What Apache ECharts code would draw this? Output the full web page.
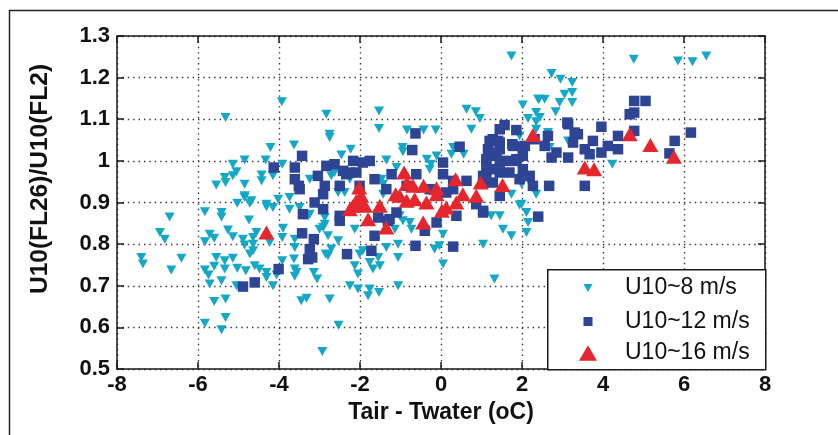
<!DOCTYPE html>
<html>
<head>
<meta charset="utf-8">
<script src="https://cdn.jsdelivr.net/npm/echarts@6/dist/echarts.min.js"></script>
<style>
  html, body { margin: 0; padding: 0; background: #fff; }
  #chart { width: 838px; height: 435px; }
</style>
</head>
<body>
<div id="chart"></div>
<script>
// Axis ticks
const xTickValues = [-8, -6, -4, -2, 0, 2, 4, 6, 8];
const yTickValues = [0.5, 0.6, 0.7, 0.8, 0.9, 1.0, 1.1, 1.2, 1.3];

const seriesNames = ['U10~8 m/s', 'U10~12 m/s', 'U10~16 m/s'];

// [Tair - Twater (oC), U10(FL26)/U10(FL2)] for winds near 8 m/s
const u10_8 = [
  [-7.40,0.768],[-7.36,0.752],[-6.94,0.828],[-6.82,0.812],[-6.70,0.865],[-6.41,0.766],[-6.66,0.738],
  [-5.83,0.878],[-5.42,0.876],[-5.42,0.865],[-5.03,0.898],[-4.85,0.912],[-4.72,0.898],[-4.74,0.858],
  [-5.26,0.834],[-5.14,0.818],[-5.71,0.824],[-5.60,0.814],[-5.83,0.806],[-4.89,0.812],[-4.85,0.798],
  [-4.64,0.784],[-4.72,0.776],[-5.55,0.768],[-5.34,0.760],[-5.14,0.766],[-5.34,0.740],[-5.60,0.747],
  [-5.83,0.738],[-5.74,0.726],[-5.71,0.704],[-5.42,0.712],[-5.03,0.742],[-4.82,0.736],[-4.60,0.748],
  [-4.48,0.740],[-4.31,0.732],[-4.15,0.700],[-4.06,0.726],[-4.31,0.720],[-5.05,0.700],[-5.60,0.662],
  [-5.32,0.668],[-5.32,0.624],[-5.83,0.610],[-5.42,0.594],[-3.92,0.760],[-3.90,0.838],[-3.92,0.816],
  [-4.23,0.804],[-4.56,0.828],[-4.64,0.800],[-4.64,0.816],[-3.61,0.792],[-3.63,0.764],[-3.61,0.740],
  [-3.57,0.732],[-3.61,0.723],[-3.14,0.732],[-3.06,0.716],[-3.45,0.664],[-3.32,0.670],[-2.93,0.542],
  [-2.85,0.776],[-3.74,0.912],[-3.49,0.888],[-3.24,0.872],[-3.00,0.836],[-2.91,0.840],[-3.61,0.812],
  [-4.31,0.890],[-4.15,0.888],[-4.02,0.908],[-4.68,0.904],[-4.31,0.896],[-3.74,0.884],[-3.28,0.868],
  [-2.79,0.820],[-2.54,0.924],
  [-3.93,1.142],[-5.32,1.104],[-2.83,1.112],[-2.75,1.064],[-2.75,1.056],[-4.21,1.032],[-3.63,1.038],
  [-4.85,1.002],[-4.33,1.002],[-5.14,0.992],[-5.05,0.974],[-5.14,0.964],[-5.34,0.960],[-5.32,0.948],
  [-5.55,0.942],[-4.85,0.944],[-4.43,0.966],[-4.43,0.952],[-4.15,0.964],[-3.92,0.992],[-4.85,0.916],
  [-3.24,0.956],[-2.71,0.964],[-2.63,0.972],[-2.25,0.956],[-1.47,0.956],
  [1.74,1.252],[-1.53,1.120],[-1.53,1.078],[-0.84,1.074],[-0.43,1.074],[-0.13,1.074],[-0.95,1.032],
  [-0.94,1.022],[-2.23,1.028],[-2.46,1.014],[-1.35,1.002],[0.63,1.124],[0.86,1.118],[0.96,1.102],
  [0.75,1.076],[2.02,1.134],[2.40,1.148],[2.35,1.116],[2.15,1.102],[2.35,1.094],[0.30,1.032],[0.26,1.016],
  [0.56,1.016],[-0.35,1.004],[-0.25,0.992],[-0.11,1.012],[-0.28,0.980],[-1.10,0.984],[-1.76,0.996],
  [-1.43,0.944],[-2.38,0.924],[1.94,1.060],[1.99,0.944],[1.74,0.920],[-1.43,0.920],
  [-2.79,0.772],[-2.71,0.788],[-2.87,0.864],[-2.54,0.808],[-2.13,0.836],[-2.01,0.776],[-1.93,0.784],
  [-1.76,0.756],[-1.68,0.740],[-1.51,0.748],[-1.55,0.768],[-1.35,0.792],[-1.06,0.800],[-1.06,0.768],
  [-2.05,0.728],[-2.25,0.700],[-2.05,0.692],[-1.76,0.692],[-1.80,0.676],[-1.53,0.684],[-1.06,0.700],
  [-2.75,0.668],[-2.53,0.605],[0.05,0.752],[1.32,0.716],[-0.16,0.788],[-0.04,0.796],[0.05,0.824],
  [1.04,0.800],[1.74,0.820],[1.53,0.836],[1.45,0.868],[1.24,0.868],[1.99,0.896],[2.15,0.852],
  [-0.94,0.856],[-0.77,0.852],[-0.73,0.836],[-1.14,0.836],[-2.87,0.848],[-2.13,0.748],
  [2.11,0.876],[2.11,0.828],[-1.02,0.868],[1.94,0.894],
  [4.76,1.244],[5.85,1.240],[6.21,1.238],[6.55,1.252],[2.73,1.210],[2.95,1.196],[3.24,1.188],[3.05,1.160],
  [3.24,1.164],[2.42,1.148],[2.56,1.148],[2.93,1.140],[3.24,1.140],[2.83,1.118],[2.44,1.104],[2.35,1.076],
  [3.14,1.048],[2.68,1.032],[4.23,0.992],[2.35,0.920],[2.19,0.948],[2.64,1.068]
];

// Winds near 12 m/s
const u10_12 = [
  [-4.89,0.698],[-4.60,0.708],[-4.01,0.740],[-3.43,0.826],[-3.14,0.812],[-3.24,0.788],[-3.28,0.764],[-3.18,0.768],
  [-3.12,0.900],[-2.91,0.884],[-2.91,0.920],[-3.49,0.932],[-3.41,0.872],
  [-4.13,0.984],[-3.43,1.012],[-3.61,0.984],[-3.61,0.956],[-3.51,0.940],[-3.04,0.964],[-2.83,0.988],[-2.87,0.940],
  [-0.63,1.066],[-0.71,1.026],[0.46,1.034],[1.57,1.086],[1.86,1.074],[1.76,1.040],[2.02,1.034],[1.28,1.052],
  [1.16,1.028],[1.45,1.044],[1.37,1.012],[1.12,1.004],[1.61,1.000],[1.86,1.000],[2.02,1.012],[2.19,0.964],
  [1.45,0.972],[1.12,0.972],[1.28,0.948],[1.04,0.948],[0.05,0.996],[0.05,0.968],[0.63,0.952],[0.30,0.952],
  [-0.61,0.968],[-1.22,0.968],[-1.64,0.956],[-1.76,1.000],[-1.93,0.996],[-2.17,1.000],[-2.63,0.992],
  [-2.34,0.968],[-2.50,0.940],[-2.01,0.940],[-1.35,0.932],[-0.85,0.940],[-0.28,0.932],[0.13,0.924],
  [2.27,0.940],[2.31,1.052],
  [-2.50,0.856],[-2.32,0.776],[-1.72,0.784],[-1.64,0.820],[-0.63,0.796],[0.30,0.794],[-0.40,0.832],
  [0.38,0.868],[1.04,0.876],[0.87,0.896],[-1.31,0.856],[1.45,0.916],
  [4.77,1.144],[5.05,1.144],[4.66,1.112],[4.77,1.116],[3.12,1.092],[3.96,1.082],[4.77,1.072],[6.17,1.068],
  [2.64,1.060],[3.38,1.064],[3.26,1.044],[3.75,1.048],[4.37,1.060],[4.12,1.036],[5.77,1.048],[2.56,1.036],
  [3.55,1.028],[3.96,1.020],[4.37,1.028],[2.85,1.020],[2.73,1.008],[3.14,1.008],[5.64,1.018],[2.67,0.940],
  [3.55,0.940],
  [2.07,1.036],[1.41,1.048],[1.20,1.048],[1.20,1.020],[1.45,1.028],[1.78,1.036],
  [1.12,0.996],[1.45,0.996],[1.86,1.004],[2.02,0.980],[1.28,0.980],[1.69,0.972],[1.04,0.964],[1.94,0.956],
  [1.04,0.880],[2.40,0.866],[3.14,1.088],[3.30,1.068],[3.67,1.016],
  [-2.42,0.976],[-2.25,0.972],[-2.09,0.972],[-2.50,0.868],[-1.55,0.864],[-1.27,0.860],
  [0.30,0.932],[-0.11,0.852],[-1.10,0.876],[1.45,1.076]
];

// Winds near 16 m/s
const u10_16 = [
  [-4.31,0.828],[2.27,1.062],[-0.91,0.972],[-2.02,0.936],[-0.84,0.946],[-0.43,0.940],[-0.11,0.934],[0.36,0.956],
  [0.98,0.948],[1.52,0.942],[-1.12,0.920],[0.54,0.920],[0.87,0.916],
  [-2.01,0.896],[-1.51,0.892],[-1.80,0.860],[-1.35,0.840],[-1.02,0.916],[-0.85,0.904],[-0.65,0.908],[-0.36,0.900],
  [-0.11,0.920],[-0.44,0.852],[0.13,0.888],[0.38,0.900],[-1.97,0.916],[-2.17,0.892],[-2.09,0.904],[-2.25,0.884],
  [-1.88,0.892],[-0.69,0.940],[0.02,0.880],
  [4.66,1.064],[5.17,1.038],[3.55,0.984],[3.78,0.980],[5.75,1.010]
];

const FONT = '"Liberation Sans", Arial, Helvetica, sans-serif';
const AXIS_COLOR = '#1a1a1a';
const colors = ['#14A8C7', '#2E4596', '#E5262D'];

const downTri = 'path://M0,0L10,0L5,8.66Z';
const square = 'path://M0,0L10,0L10,10L0,10Z';
const upTri = 'path://M5,0L10,8.66L0,8.66Z';

function legendItem(idx, icon, size, cy) {
  const left = 588 - size / 2;
  return {
    data: [{ name: seriesNames[idx], icon: icon }],
    left: left, top: cy - 15,
    orient: 'vertical',
    itemWidth: size, itemHeight: 30,
    padding: 0,
    symbolRotate: 0,
    selectedMode: false,
    z: 10,
    textStyle: {
      fontFamily: FONT, fontSize: 23, color: '#111', lineHeight: 30,
      padding: [0, 0, 0, 625 - (left + size + 5)]
    }
  };
}

const yAxisBase = {
  type: 'value',
  min: yTickValues[0], max: yTickValues[yTickValues.length - 1], interval: 0.1,
  axisLine: { show: true, onZero: false, lineStyle: { color: AXIS_COLOR, width: 1.5 } },
  axisTick: { show: true, inside: true, length: 7, lineStyle: { color: AXIS_COLOR, width: 1.5 } }
};
const xAxisBase = {
  type: 'value',
  min: xTickValues[0], max: xTickValues[xTickValues.length - 1], interval: 2,
  axisLine: { show: true, onZero: false, lineStyle: { color: AXIS_COLOR, width: 1.5 } },
  axisTick: { show: true, inside: true, length: 7, lineStyle: { color: AXIS_COLOR, width: 1.5 } }
};
const gridDots = { show: true, lineStyle: { color: '#333', width: 1.4, type: [1.4, 4] } };

const option = {
  animation: false,
  backgroundColor: '#fff',
  grid: { left: 117, right: 73, top: 36, bottom: 66 },
  xAxis: [
    Object.assign({}, xAxisBase, {
      position: 'bottom',
      name: 'Tair - Twater (oC)', nameLocation: 'middle', nameGap: 29,
      nameTextStyle: { fontFamily: FONT, fontSize: 23, fontWeight: 'bold', color: '#111' },
      axisLabel: {
        margin: 5, fontFamily: FONT, fontSize: 22, fontWeight: 'bold', color: '#111',
        formatter: v => String(xTickValues.find(t => Math.abs(t - v) < 1e-6))
      },
      splitLine: gridDots
    }),
    Object.assign({}, xAxisBase, {
      position: 'top', axisLabel: { show: false }, splitLine: { show: false }
    })
  ],
  yAxis: [
    Object.assign({}, yAxisBase, {
      position: 'left',
      name: 'U10(FL26)/U10(FL2)', nameLocation: 'middle', nameGap: 64,
      nameTextStyle: {
        fontFamily: FONT, fontSize: 24.5, fontWeight: 'bold', color: '#111',
        padding: [0, 0, 0, 47]
      },
      axisLabel: {
        margin: 7, fontFamily: FONT, fontSize: 22, fontWeight: 'bold', color: '#111',
        formatter: v => {
          const t = yTickValues.find(t => Math.abs(t - v) < 1e-6);
          return t === undefined ? '' : String(+t.toFixed(1));
        }
      },
      splitLine: gridDots
    }),
    Object.assign({}, yAxisBase, {
      position: 'right', axisLabel: { show: false }, splitLine: { show: false }
    })
  ],
  legend: [
    legendItem(0, downTri, 9, 288),
    legendItem(1, square, 9, 321.5),
    legendItem(2, upTri, 18, 353)
  ],
  graphic: [
    {
      type: 'rect', left: 7, top: 8, z: 0, silent: true,
      shape: { width: 900, height: 500 },
      style: { fill: 'none', stroke: '#222', lineWidth: 1.5 }
    },
    {
      type: 'rect', left: 547, top: 269, z: 5, silent: true,
      shape: { width: 218, height: 100 },
      style: { fill: '#fff', stroke: '#1a1a1a', lineWidth: 1.5 }
    }
  ],
  series: [
    {
      name: seriesNames[0], type: 'scatter', data: u10_8,
      symbol: 'triangle', symbolRotate: 180, symbolSize: [10, 9],
      itemStyle: { color: colors[0], opacity: 1 }, z: 2
    },
    {
      name: seriesNames[1], type: 'scatter', data: u10_12,
      symbol: 'rect', symbolSize: 10.5,
      itemStyle: { color: colors[1], opacity: 1 }, z: 3
    },
    {
      name: seriesNames[2], type: 'scatter', data: u10_16,
      symbol: 'triangle', symbolSize: [16, 14],
      itemStyle: { color: colors[2], opacity: 1 }, z: 4
    }
  ]
};

const chart = echarts.init(document.getElementById('chart'), null, { renderer: 'canvas' });
chart.setOption(option);
</script>
</body>
</html>
